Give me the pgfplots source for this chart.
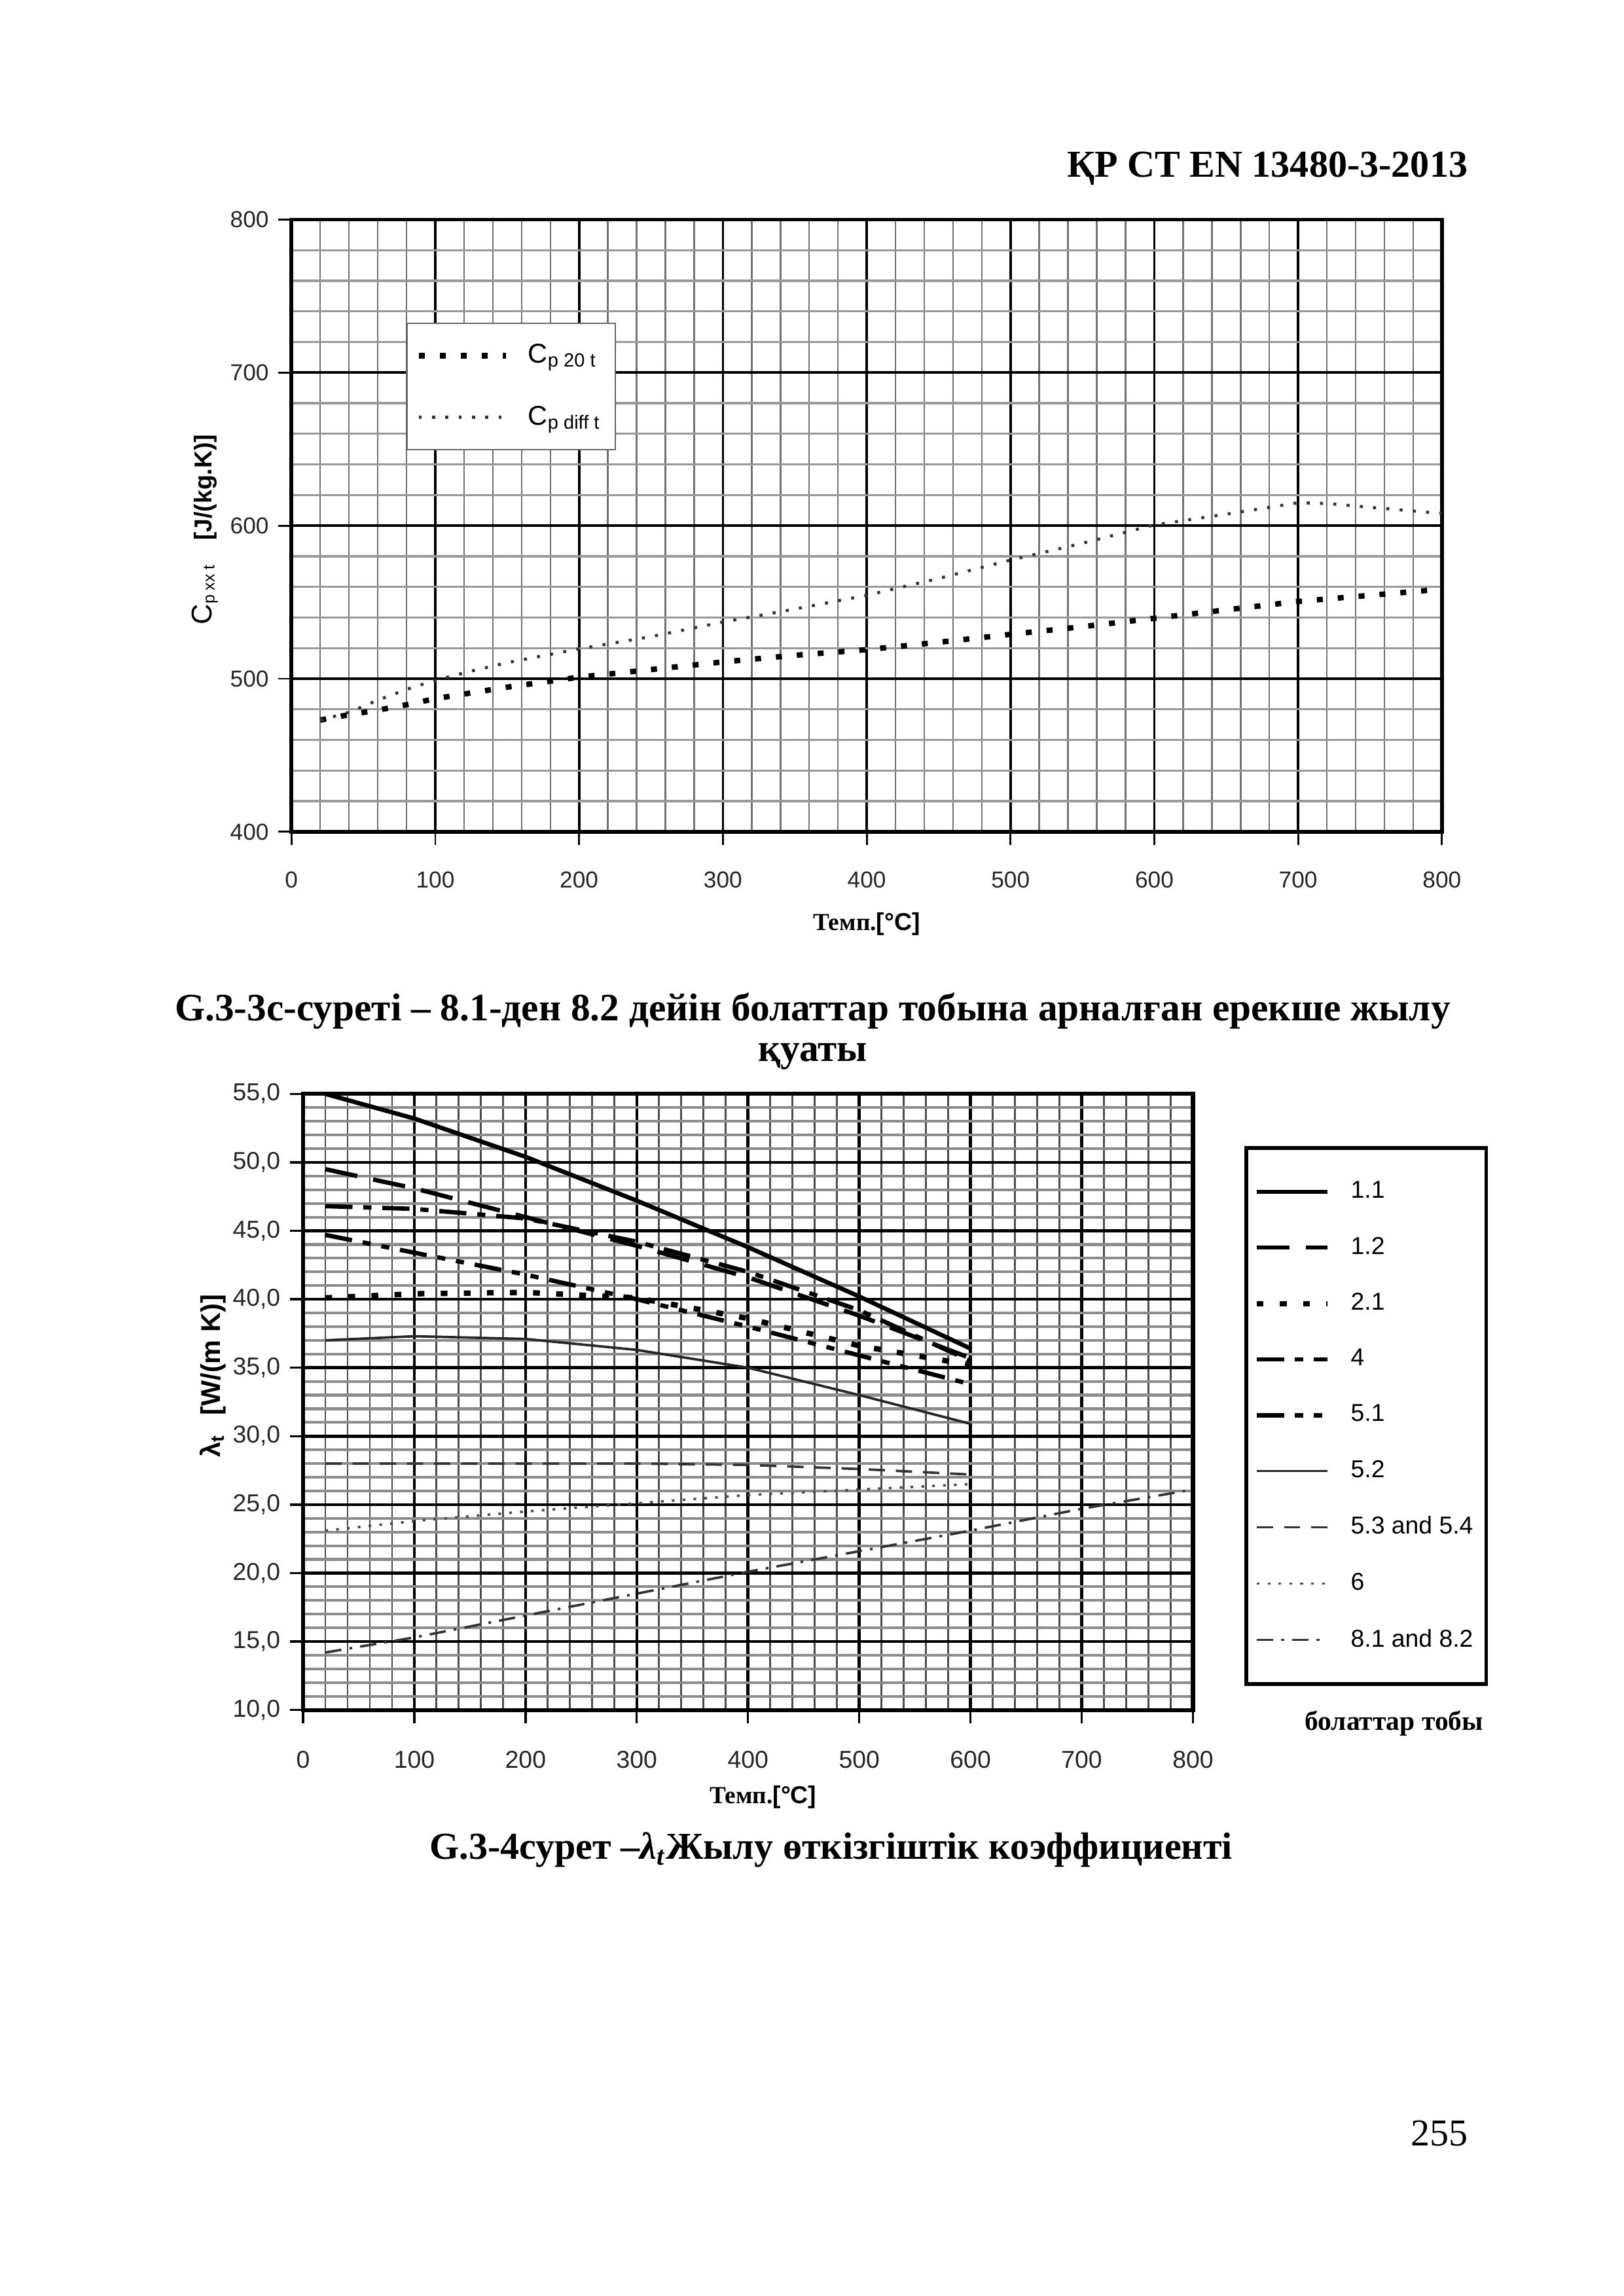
\documentclass[border=0pt]{standalone}
\usepackage{fontspec}
\setmainfont{Liberation Serif}
\setsansfont{Liberation Sans}
\usepackage{pgfplots}
\pgfplotsset{compat=1.18}

\newcommand{\fsz}[1]{\fontsize{#1}{1.2\dimexpr#1pt\relax}\selectfont}

\begin{document}
\begin{tikzpicture}
\fill[white] (0,0) rectangle (210mm,297mm);
\useasboundingbox (0,0) rectangle (210mm,297mm);

% header
\node[anchor=base east, inner sep=0pt, font=\bfseries\fsz{14}] at (189.9mm,274.1mm) {ҚР СТ EN 13480-3-2013};

% ---- top chart: specific heat capacity
\begin{axis}[
    at={(37.7mm,189.4mm)}, anchor=south west,
    scale only axis, width=148.8mm, height=79.2mm,
    xmin=0, xmax=800, ymin=400, ymax=800,
    xtick={0,100,...,800}, ytick={400,500,...,800},
    minor x tick num=4, minor y tick num=4,
    grid=both,
    major grid style={black, line width=0.9pt},
    minor x grid style={black!55, line width=0.6pt},
    minor y grid style={black!40, line width=0.8pt},
    axis line style={line width=1.4pt},
    tick align=outside, xtick pos=left, ytick pos=left,
    major tick length=1.7mm, minor tick length=0pt,
    tick style={black, line width=0.7pt},
    tick label style={font=\sffamily\fsz{8.5}, black!85},
    xticklabel style={yshift=-2.2mm},
    legend style={at={(0.0995,0.832)}, anchor=north west, draw=black!60,
        line width=0.6pt, fill=white, inner xsep=1.2mm, inner ysep=2mm,
        row sep=3.6mm, column sep=1.8mm, font=\sffamily\fsz{10}, cells={anchor=west}},
    legend image code/.code={\draw[#1] (0mm,0mm) -- (11.3mm,0mm);},
    /pgf/number format/assume math mode=true,
]
\addplot[black, line width=2pt, dash pattern=on 2.2pt off 5.5pt] coordinates {
    (20,473) (40,476.5) (60,479.5) (80,483) (100,487) (150,494.5) (200,501)
    (250,506) (300,511) (350,515.3) (400,519) (450,523.8) (500,529)
    (550,534) (600,539.5) (650,545) (700,550.5) (750,554.5) (800,558.5)
};
\addlegendentry{C\textsubscript{p 20 t}}
\addplot[black!80, line width=1.1pt, dash pattern=on 1.1pt off 3.8pt] coordinates {
    (20,473) (40,478) (60,486) (80,493) (100,499) (125,505) (150,510.5)
    (175,515) (200,519.5) (250,527.5) (300,537) (350,545.5) (400,554.5)
    (450,565.5) (500,577.5) (550,588.5) (600,600.5) (650,607.5) (700,615)
    (720,614.5) (750,612) (800,608)
};
\addlegendentry{C\textsubscript{p diff t}}
\end{axis}

\node[font=\fsz{9}, inner sep=0pt] at (112.1mm,177.5mm)
    {\bfseries Темп.\sffamily[°C]};
\node[rotate=90, font=\sffamily\fsz{9}, inner sep=0pt] at (26.5mm,228.5mm)
    {{\fsz{10.5}C}\textsubscript{p xx t}\hspace{3mm}\bfseries [J/(kg.K)]};

% caption 1
\node[anchor=base, inner sep=0pt, font=\bfseries\fsz{14.3}] at (105.1mm,165.0mm)
    {G.3-3c-суреті – 8.1-ден 8.2 дейін болаттар тобына арналған ерекше жылу};
\node[anchor=base, inner sep=0pt, font=\bfseries\fsz{14.3}] at (105.1mm,159.7mm) {қуаты};

% ---- bottom chart: thermal conductivity
\begin{axis}[
    at={(39.2mm,75.8mm)}, anchor=south west,
    scale only axis, width=115.1mm, height=79.7mm,
    xmin=0, xmax=800, ymin=10, ymax=55,
    xtick={0,100,...,800}, ytick={10,15,...,55},
    minor x tick num=4, minor y tick num=4,
    grid=both,
    major grid style={black, line width=1.1pt},
    minor x grid style={black!70, line width=0.7pt},
    minor y grid style={black!45, line width=1pt},
    axis line style={line width=1.5pt},
    tick align=outside, xtick pos=left, ytick pos=left,
    major tick length=1.7mm, minor tick length=0pt,
    tick style={black, line width=0.8pt},
    tick label style={font=\sffamily\fsz{9}, black!85},
    xticklabel style={yshift=-2.4mm},
    yticklabel style={/pgf/number format/.cd, fixed, fixed zerofill, precision=1, use comma},
    legend style={at={(1.058,0.915)}, anchor=north west, draw=black,
        line width=1.3pt, fill=white, inner xsep=1mm, inner ysep=3.6mm,
        row sep=3.1mm, column sep=2mm,
        font=\sffamily\fsz{9}, cells={anchor=west}},
    legend image code/.code={\draw[#1] (0mm,0mm) -- (9.1mm,0mm);},
    /pgf/number format/assume math mode=true,
]
\addplot[black, line width=1.6pt] coordinates {
    (20,55.0) (100,53.2) (200,50.4) (300,47.2) (400,43.8) (500,40.2) (600,36.4)
};
\addlegendentry{1.1}
\addplot[black, line width=1.6pt, dash pattern=on 12pt off 6pt] coordinates {
    (20,49.5) (100,48.1) (200,46.0) (300,43.9) (400,41.6) (500,38.8) (600,35.7)
};
\addlegendentry{1.2}
\addplot[black, line width=2pt, dash pattern=on 2.5pt off 6pt] coordinates {
    (20,40.1) (100,40.4) (200,40.5) (300,40.1) (400,38.6) (500,36.6) (600,35.2)
};
\addlegendentry{2.1}
\addplot[black, line width=1.6pt, dash pattern=on 10pt off 4pt on 3pt off 4pt] coordinates {
    (20,46.8) (100,46.6) (200,45.9) (300,44.2) (400,42.0) (500,39.2) (600,35.5)
};
\addlegendentry{4}
\addplot[black, line width=1.6pt, dash pattern=on 10pt off 4pt on 3pt off 4pt on 3pt off 4pt] coordinates {
    (20,44.7) (100,43.4) (200,41.8) (300,40.0) (400,38.0) (500,35.9) (600,33.8)
};
\addlegendentry{5.1}
\addplot[black!85, line width=0.9pt] coordinates {
    (20,37.0) (100,37.3) (200,37.1) (300,36.3) (400,35.0) (500,33.0) (600,30.9)
};
\addlegendentry{5.2}
\addplot[black!80, line width=0.9pt, dash pattern=on 6pt off 4pt] coordinates {
    (20,28.0) (100,28.0) (200,28.0) (300,28.0) (400,27.9) (500,27.6) (600,27.2)
};
\addlegendentry{5.3 and 5.4}
\addplot[black!70, line width=0.9pt, dash pattern=on 1pt off 3pt] coordinates {
    (20,23.1) (100,23.8) (200,24.5) (300,25.1) (400,25.7) (500,26.1) (600,26.5)
};
\addlegendentry{6}
\addplot[black!80, line width=0.9pt, dash pattern=on 6pt off 3pt on 1pt off 3pt] coordinates {
    (20,14.2) (100,15.3) (200,16.9) (300,18.5) (400,20.1) (500,21.6)
    (600,23.1) (700,24.7) (800,26.1)
};
\addlegendentry{8.1 and 8.2}
\end{axis}

\node[font=\fsz{9}, inner sep=0pt] at (98.7mm,64.5mm)
    {\bfseries Темп.\sffamily[°C]};
\node[rotate=90, font=\sffamily\bfseries\fsz{10}, inner sep=0pt] at (27.5mm,119.0mm)
    {λ\textsubscript{t}\hspace{2.5mm}[W/(m K)]};
\node[font=\bfseries\fsz{10}, inner sep=0pt] at (180.3mm,74.1mm) {болаттар тобы};

% caption 2
\node[anchor=base, inner sep=0pt, font=\bfseries\fsz{14}] at (107.5mm,56.5mm)
    {G.3-4сурет –{\itshape λ}\textsubscript{\itshape t}Жылу өткізгіштік коэффициенті};

% page number
\node[anchor=base east, inner sep=0pt, font=\fsz{14}] at (189.9mm,19.4mm) {255};
\end{tikzpicture}
\end{document}
